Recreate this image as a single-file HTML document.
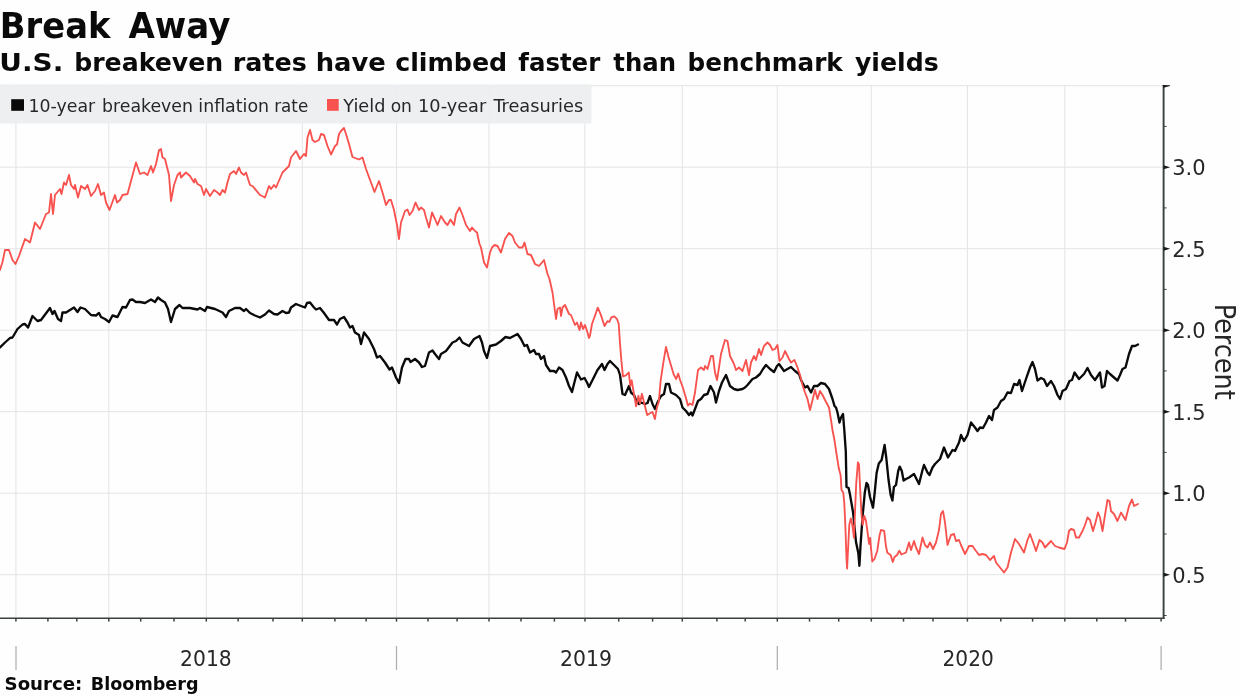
<!DOCTYPE html>
<html lang="en">
<head>
<meta charset="utf-8">
<title>Break Away</title>
<style>
html,body{margin:0;padding:0;background:#fefefe;}
body{width:1240px;height:696px;overflow:hidden;}
svg{display:block;will-change:transform;}
text{font-family:"DejaVu Sans Condensed","DejaVu Sans","Liberation Sans",sans-serif;fill:#272727;}
.b{font-family:"DejaVu Sans","Liberation Sans",sans-serif;font-weight:bold;fill:#0a0a0a;}
</style>
</head>
<body>
<svg width="1240" height="696" viewBox="0 0 1240 696">
<rect x="0" y="0" width="1240" height="696" fill="#fefefe"/>
<g stroke="#e4e4e7" stroke-width="1" fill="none">
<line x1="0" y1="85.7" x2="1163.6" y2="85.7"/>
<line x1="0" y1="167.2" x2="1163.6" y2="167.2"/>
<line x1="0" y1="248.7" x2="1163.6" y2="248.7"/>
<line x1="0" y1="330.2" x2="1163.6" y2="330.2"/>
<line x1="0" y1="411.7" x2="1163.6" y2="411.7"/>
<line x1="0" y1="493.2" x2="1163.6" y2="493.2"/>
<line x1="0" y1="574.7" x2="1163.6" y2="574.7"/>
<line x1="15.9" y1="85.7" x2="15.9" y2="618.3"/>
<line x1="108.8" y1="85.7" x2="108.8" y2="618.3"/>
<line x1="206.3" y1="85.7" x2="206.3" y2="618.3"/>
<line x1="302.3" y1="85.7" x2="302.3" y2="618.3"/>
<line x1="396.5" y1="85.7" x2="396.5" y2="618.3"/>
<line x1="489" y1="85.7" x2="489" y2="618.3"/>
<line x1="584.8" y1="85.7" x2="584.8" y2="618.3"/>
<line x1="682.3" y1="85.7" x2="682.3" y2="618.3"/>
<line x1="777.3" y1="85.7" x2="777.3" y2="618.3"/>
<line x1="871.3" y1="85.7" x2="871.3" y2="618.3"/>
<line x1="967.4" y1="85.7" x2="967.4" y2="618.3"/>
<line x1="1064.8" y1="85.7" x2="1064.8" y2="618.3"/>
</g>
<rect x="0" y="84.5" width="591.5" height="39" fill="#edeef0" fill-opacity="0.93"/>
<rect x="11.2" y="99.2" width="12.8" height="11.6" fill="#0a0a0a"/>
<rect x="327" y="99" width="11.7" height="11.8" fill="#f8524f"/>
<polyline fill="none" stroke="#0a0a0a" stroke-width="2.35" stroke-linejoin="round" stroke-linecap="round" points="0,347.5 5,342.5 10,338 12.5,337.5 17.5,329 22.5,324.5 25,324 28,327.5 32.5,316 37.5,321 41,320 44,316 50,308 52.5,314 54.5,311 58,319 61,321 62.5,312.5 66,312.5 74,307.5 77.5,312 80.5,307.5 85,309 91,315 96,315.5 99,313 101,317 105,319 109,322 112.5,315.5 117.5,317 122.5,307 126,307.5 130,300 132.5,299.5 136,302 140,302 145,303 151,299.5 155,302 158,297.5 161,300 165,302.5 168,309 171,322 175,309 179.5,305 182.5,308 190,308 197.5,309.5 200,308 205,311 207,307 215,309 222.5,312.5 226,317 229,311 235,308 240,308 244,311 246,309 250,313 255,315.5 260,317.5 265,314.5 269,310.5 274,314 277.5,314.5 282.5,311 286,313 289,312.5 291,307.5 296,304 301,306 305,307.5 307,303 310,302.5 314,307.5 316,309.5 320,308 324,313 329,320 334,320 337,324.5 340,319 344,317 347.5,322.5 350,327.5 352.5,326 355,332.5 359,335 361,344 364,332.5 369,339 374,349 377,357.5 380,356 385,362.5 389.5,369.5 392,367.5 396,377.5 399,383 402,367.5 405.5,359 409,359 410.5,362 415,359 419,362.5 422,367 425,366 429,352.5 432.5,350.5 435,354 439,359 441,354 446,351 452.5,342.5 456,341 459.5,337.5 462.5,342.5 469,346 474,339 479.5,336 482,342.5 484,351 487,358 490,346 496,344.5 501,341 505.5,337 510,338 517.5,334 521,339 524.5,346 527,345 530,352.5 534,350 536,354 539,354 541,359 544,356 546,365 550,371 554,371 556,372.5 559,367.5 562.5,370 566,377.5 569,386 572,392 574,384 577,372.5 581,379.5 584.5,378 587,382.5 589,387 592.5,380 597.5,370 602,364 604.5,370 607.5,364 610,361 615,366 618,369 620,375 622.5,394 625,395 629,386 631,392.5 634,395 636,400 639,404 641,402.5 645,404 647.5,403 650,396 652.5,404 655,409 657.5,402.5 661,396 664,394 666,384 669,384 671,392.5 674,394 676,395 680,399 682.5,407.5 686,411 689,415 691,412.5 692.5,415.5 695,409 698,401 701,399 704,395 707.5,394 710.5,386 714,392.5 716,402.5 719,391 722,382.5 726,375 730,386 734,389 737.5,390 742.5,389 745,387.5 747.5,385 752.5,379 756,377.5 760,374 763,369 766,365 770,369 774,372 777,366 779,364 784,371 787.5,369 791,367 795,371 799,374 801,380 805,387.5 807.5,386 811,392.5 814,386 817.5,386 821,383 825,384 829,389 832.5,399 834.5,406 836,407.5 837.5,412.5 839.5,422.5 841,417.5 843,414 844.3,430 845.8,451.5 846.5,487 848.6,488 850,494.6 853,512 856,542 858.3,553 859.4,565.8 860.5,546 862.6,516 864.8,492.5 866.5,483 868,485 870,497 873,507.6 874.5,494.6 876.6,473 878.8,463.4 881.6,460 884.6,445 886.3,458 888.5,479.5 890.6,494.6 892.4,500.5 893.9,487 896,485 898.2,471 899.7,466.6 901.8,471 903.6,480.6 906,479 909,477.5 914,474 919,484 922.5,470 924,465 927.5,472.5 929.5,475 932.5,467.5 935,464 940,459 944,447.5 948,457.5 952.5,450 955,451 959,442.5 961,435 964,441 967.5,435 971,422.5 975,427.5 977.5,431 980,427.5 983,428 986,422.5 989,416 992,420 994,410 997.5,407.5 1001,401 1004,399 1007.5,392.5 1011,393 1014,384 1017.5,385 1019.5,380 1022,391 1026,379 1030,367.5 1032.5,362 1035,369 1037.5,380.5 1041,378 1044,379.5 1047,386 1051,381 1054,386 1057.5,395 1060,399 1062.5,391 1066,389 1069.5,381 1072,380 1074.5,372.5 1079,379 1084,374 1087.5,368 1091,375 1095,380 1100,372.5 1102,387.5 1104.5,386 1107,371 1110,374 1114,377.5 1117.5,380.5 1120,375 1122.5,369 1125.5,367.5 1129,354 1132,346 1135,346 1138,344.5"/>
<polyline fill="none" stroke="#f8524f" stroke-width="1.85" stroke-linejoin="round" stroke-linecap="round" points="0,270 2.5,262 5,250 9,250 12.5,260 15.5,264 19,256 25,239 30,242.5 35,222.5 40,229 46,214 49,212.5 51,194 53,214 55,195 60,189 61.5,194 64,182.5 66,185 69,175 71,185 74,189 75,185 78,197.5 81,186 85,189 87.5,185 91,196 95,191 98,184 101,195 104,192.5 106,202.5 109.5,210 115,195 117,202.5 120,200 122.5,195 127.5,194 136,162.5 140,174 144,172.5 147.5,175 151,166 153,172.5 156,164 159,150 161,149 162.5,157.5 165,159 169,175 171,201 174,185 177.5,175 180,172.5 181,177.5 186,172.5 190,176 194,182.5 195,179 197.5,184 201,186 204,195 206,189 210,196 214,190 217.5,192.5 220,195 222.5,190 225,192.5 227.5,182.5 230,174 234,171 236,174 239,167.5 241,172.5 244,175 246,172.5 250,185 252.5,186 260,195 265,197.5 269,186 271,189 274,185 276,187.5 282.5,172.5 289,166 291,157.5 296,151 300,159 304,154 306,156 307.5,137.5 310,130 312.5,140 315,142 319,140 321,134 324,135 327.5,146 331,154.5 335,146 337,144.5 339,134 341,131 344,128 346,134 349,144 352.5,157 359,159.5 362.5,157.5 366,169 371,182.5 374.5,192 379,181 382.5,192.5 386,205 389,200 391,200 394,210 397,225 399,239 401,222.5 405,211 407.5,209.5 409.5,215 412.5,211 415.5,202.5 419,210 421,207.5 424,210 426,217.5 429,227.5 432,212.5 435,219 437.5,225 441,216 445,222.5 447.5,225 450.5,219.5 454,225 456,214 459.5,207.5 462.5,215 466,225 470,231 472,227.5 475,231 477,232.5 479.5,244 481,247.5 484,262.5 487,267.5 490,252.5 492,247.5 494.5,245 497.5,246 501,252.5 505,239 509,233 512.5,236 515,242.5 519,247.5 522.5,247.5 524.5,242.5 527.5,254 531,255 535,264 539,266 544,260 547.5,274 549.5,279 552.5,292.5 554.5,307.5 556,319 557.5,309 560,307.5 561,316 562.5,307.5 565,305 569,314 571,315 573,320 575,325 577,322.5 579.5,330 581,322.5 583,329 585,325 587.5,332.5 589,338 590,335.7 592,324 594.8,316.3 597.8,307.6 600.7,314.4 604.5,326 607.4,321.2 609.4,322 611.3,317.3 614.2,316.3 617.1,319.2 618.7,324 620,343.4 621.4,360.9 623,376.4 625.9,375.4 628.8,372.5 630.3,386 631.7,380.3 633.6,392 636.1,406.4 638.4,395.8 640,403.5 641.9,393.8 644.3,403.5 647.2,415 650,413.2 652.5,412 654.9,419 656.9,407.4 658.8,401.6 660.7,380.3 663.3,362.8 666,346.9 668.5,357 671.4,366.7 673.7,374.5 676.2,379 678.2,373.5 680.1,380 683,388 685.9,397.7 687.9,405.5 690,403.5 692.5,405 695,392.5 698,370 701,367.5 704,370 705,366 707.5,369 711,356 713,356 715,372.5 717,380 719,367.5 721,354 725,340 727.5,341 730,356 734,364 736,370 739,367.5 742.5,371 746,360 749,375 751,362.5 754,356 756,360 759,349 761,355 764,346 767.5,342.5 770,345 772.5,350 775,349 777.5,345 779.5,361 782.5,357.5 785,351 789,359 791,362.5 794.5,360 797.5,367.5 800,375 802.5,385 805,392.5 807.5,399 810,410 812.5,400 815,390 817.5,399 820,391 822.5,395 825,400 829,407.5 831,420 832.5,430 834.6,440.8 836.8,455.9 838.9,468.8 840.6,475 841.5,490 843.2,492.5 844.3,503 845.4,527 846.5,559 847.1,568.5 848,550.7 849.3,524.8 850.8,518.4 852.3,524.8 854,537.8 855,512 856.2,483.9 857.9,462.3 859,464.5 860,486 861.6,516 862.6,524.8 864.4,516 865.9,520.5 867.4,531 869.1,544 870.2,537.8 870.8,546 872.3,561.5 874.5,559 877.3,550.7 879.5,535.6 881,530 884.2,530.9 885.9,546 887.4,552.8 890.6,555 892.8,562 894.5,557 897.1,555 899.3,550.7 901.4,554.5 906,552.5 909,542.5 911,550 914,541 916,547.5 919,554 922.5,537.5 925,545 927.5,547.5 930,542.5 933,549 936,542.5 939,530 941,514 943,511 945,522.5 947.5,545 951,535 954,534 956,541 959,540 961,545 965,554 969,546 972.5,546 976,551 979,555 982.5,554 986,555 990,560 994,556 996,562.5 1000,567.5 1004,572.5 1007.5,567.5 1011,552.5 1015,539 1019,544 1024,552.5 1027.5,540 1030,534 1034,545 1036,551 1039.5,540 1042.5,542.5 1045,547.5 1051,541 1055,546 1059,547.5 1064.5,549 1067,542.5 1069,531 1071,529 1074,530 1076,537.5 1079,537.5 1082.5,531 1085,525 1087.5,517.5 1090,520 1093,531 1095.5,522.5 1098,512.5 1100,517.5 1102.5,531 1105,515 1107.5,500 1109.5,501 1111,511 1114,514 1117.5,521 1121,512.5 1124,517.5 1125.5,520 1129,506 1132,499.5 1134,506 1138,504"/>
<g stroke="#3a3f3f" fill="none">
<line x1="0" y1="618.3" x2="1164.6" y2="618.3" stroke-width="1.4"/>
<line x1="1163.6" y1="84.9" x2="1163.6" y2="619" stroke-width="1.9"/>
<line x1="15.9" y1="618.3" x2="15.9" y2="621.6" stroke-width="1.5"/>
<line x1="47.9" y1="618.3" x2="47.9" y2="621.6" stroke-width="1.5"/>
<line x1="76.8" y1="618.3" x2="76.8" y2="621.6" stroke-width="1.5"/>
<line x1="108.8" y1="618.3" x2="108.8" y2="621.6" stroke-width="1.5"/>
<line x1="140.7" y1="618.3" x2="140.7" y2="621.6" stroke-width="1.5"/>
<line x1="174" y1="618.3" x2="174" y2="621.6" stroke-width="1.5"/>
<line x1="206.3" y1="618.3" x2="206.3" y2="621.6" stroke-width="1.5"/>
<line x1="238.1" y1="618.3" x2="238.1" y2="621.6" stroke-width="1.5"/>
<line x1="273" y1="618.3" x2="273" y2="621.6" stroke-width="1.5"/>
<line x1="302.3" y1="618.3" x2="302.3" y2="621.6" stroke-width="1.5"/>
<line x1="334.9" y1="618.3" x2="334.9" y2="621.6" stroke-width="1.5"/>
<line x1="366.1" y1="618.3" x2="366.1" y2="621.6" stroke-width="1.5"/>
<line x1="396.5" y1="618.3" x2="396.5" y2="621.6" stroke-width="1.5"/>
<line x1="428" y1="618.3" x2="428" y2="621.6" stroke-width="1.5"/>
<line x1="457.1" y1="618.3" x2="457.1" y2="621.6" stroke-width="1.5"/>
<line x1="489" y1="618.3" x2="489" y2="621.6" stroke-width="1.5"/>
<line x1="521" y1="618.3" x2="521" y2="621.6" stroke-width="1.5"/>
<line x1="554.4" y1="618.3" x2="554.4" y2="621.6" stroke-width="1.5"/>
<line x1="585" y1="618.3" x2="585" y2="621.6" stroke-width="1.5"/>
<line x1="618.7" y1="618.3" x2="618.7" y2="621.6" stroke-width="1.5"/>
<line x1="652.6" y1="618.3" x2="652.6" y2="621.6" stroke-width="1.5"/>
<line x1="682.3" y1="618.3" x2="682.3" y2="621.6" stroke-width="1.5"/>
<line x1="716.9" y1="618.3" x2="716.9" y2="621.6" stroke-width="1.5"/>
<line x1="745.2" y1="618.3" x2="745.2" y2="621.6" stroke-width="1.5"/>
<line x1="777.3" y1="618.3" x2="777.3" y2="621.6" stroke-width="1.5"/>
<line x1="809.5" y1="618.3" x2="809.5" y2="621.6" stroke-width="1.5"/>
<line x1="838.7" y1="618.3" x2="838.7" y2="621.6" stroke-width="1.5"/>
<line x1="871.3" y1="618.3" x2="871.3" y2="621.6" stroke-width="1.5"/>
<line x1="903.5" y1="618.3" x2="903.5" y2="621.6" stroke-width="1.5"/>
<line x1="933" y1="618.3" x2="933" y2="621.6" stroke-width="1.5"/>
<line x1="967.4" y1="618.3" x2="967.4" y2="621.6" stroke-width="1.5"/>
<line x1="1000.8" y1="618.3" x2="1000.8" y2="621.6" stroke-width="1.5"/>
<line x1="1032.6" y1="618.3" x2="1032.6" y2="621.6" stroke-width="1.5"/>
<line x1="1064.8" y1="618.3" x2="1064.8" y2="621.6" stroke-width="1.5"/>
<line x1="1096.8" y1="618.3" x2="1096.8" y2="621.6" stroke-width="1.5"/>
<line x1="1125.5" y1="618.3" x2="1125.5" y2="621.6" stroke-width="1.5"/>
<line x1="1161.1" y1="618.3" x2="1161.1" y2="621.6" stroke-width="1.5"/>
<line x1="1163.6" y1="126.4" x2="1166.6" y2="126.4" stroke-width="1"/>
<line x1="1163.6" y1="207.9" x2="1166.6" y2="207.9" stroke-width="1"/>
<line x1="1163.6" y1="289.4" x2="1166.6" y2="289.4" stroke-width="1"/>
<line x1="1163.6" y1="370.9" x2="1166.6" y2="370.9" stroke-width="1"/>
<line x1="1163.6" y1="452.4" x2="1166.6" y2="452.4" stroke-width="1"/>
<line x1="1163.6" y1="534" x2="1166.6" y2="534" stroke-width="1"/>
<line x1="1163.6" y1="615.5" x2="1166.6" y2="615.5" stroke-width="1"/>
</g>
<g fill="#1a1a1a">
<path d="M1162.6 84.9 L1170 85.2 L1170 86 L1163.6 87.8 Z"/>
<path d="M1163.6 165.2 L1170.2 167.2 L1163.6 169.2 Z"/>
<path d="M1163.6 246.7 L1170.2 248.7 L1163.6 250.7 Z"/>
<path d="M1163.6 328.2 L1170.2 330.2 L1163.6 332.2 Z"/>
<path d="M1163.6 409.7 L1170.2 411.7 L1163.6 413.7 Z"/>
<path d="M1163.6 491.2 L1170.2 493.2 L1163.6 495.2 Z"/>
<path d="M1163.6 572.7 L1170.2 574.7 L1163.6 576.7 Z"/>
</g>
<text x="1172.2" y="175.2" font-size="22" textLength="33.4" lengthAdjust="spacingAndGlyphs">3.0</text>
<text x="1172.2" y="256.7" font-size="22" textLength="33.4" lengthAdjust="spacingAndGlyphs">2.5</text>
<text x="1172.2" y="338.2" font-size="22" textLength="33.4" lengthAdjust="spacingAndGlyphs">2.0</text>
<text x="1172.2" y="419.7" font-size="22" textLength="33.4" lengthAdjust="spacingAndGlyphs">1.5</text>
<text x="1172.2" y="501.2" font-size="22" textLength="33.4" lengthAdjust="spacingAndGlyphs">1.0</text>
<text x="1172.2" y="582.7" font-size="22" textLength="33.4" lengthAdjust="spacingAndGlyphs">0.5</text>
<text transform="translate(1214.5 303.7) rotate(90)" font-size="28" textLength="96" lengthAdjust="spacingAndGlyphs">Percent</text>
<g stroke="#a9adad" stroke-width="1.2">
<line x1="16" y1="646" x2="16" y2="670"/>
<line x1="396.5" y1="646" x2="396.5" y2="670"/>
<line x1="777.3" y1="646" x2="777.3" y2="670"/>
<line x1="1161.1" y1="646" x2="1161.1" y2="670"/>
</g>
<g id="words" opacity="0.999">
<text id="t1" class="b" x="-0.15" y="38" font-size="35" textLength="110.50" lengthAdjust="spacingAndGlyphs">Break</text>
<text id="t2" class="b" x="128.45" y="38" font-size="35" textLength="101.91" lengthAdjust="spacingAndGlyphs">Away</text>
<text id="s1" class="b" x="-0.75" y="71" font-size="25" textLength="64.03" lengthAdjust="spacingAndGlyphs">U.S.</text>
<text id="s2" class="b" x="74.21" y="71" font-size="25" textLength="148.98" lengthAdjust="spacingAndGlyphs">breakeven</text>
<text id="s3" class="b" x="232.73" y="71" font-size="25" textLength="74.04" lengthAdjust="spacingAndGlyphs">rates</text>
<text id="s4" class="b" x="315.69" y="71" font-size="25" textLength="70.02" lengthAdjust="spacingAndGlyphs">have</text>
<text id="s5" class="b" x="395.15" y="71" font-size="25" textLength="112.02" lengthAdjust="spacingAndGlyphs">climbed</text>
<text id="s6" class="b" x="518.31" y="71" font-size="25" textLength="81.89" lengthAdjust="spacingAndGlyphs">faster</text>
<text id="s7" class="b" x="613.28" y="71" font-size="25" textLength="62.73" lengthAdjust="spacingAndGlyphs">than</text>
<text id="s8" class="b" x="687.57" y="71" font-size="25" textLength="155.18" lengthAdjust="spacingAndGlyphs">benchmark</text>
<text id="s9" class="b" x="854.93" y="71" font-size="25" textLength="83.70" lengthAdjust="spacingAndGlyphs">yields</text>
<text id="l1" class="r" x="28.56" y="112" font-size="18" textLength="66.69" lengthAdjust="spacingAndGlyphs">10-year</text>
<text id="l2" class="r" x="102.04" y="112" font-size="18" textLength="90.96" lengthAdjust="spacingAndGlyphs">breakeven</text>
<text id="l3" class="r" x="198.37" y="112" font-size="18" textLength="70.66" lengthAdjust="spacingAndGlyphs">inflation</text>
<text id="l4" class="r" x="274.26" y="112" font-size="18" textLength="33.91" lengthAdjust="spacingAndGlyphs">rate</text>
<text id="m1" class="r" x="343.34" y="112" font-size="18" textLength="42.04" lengthAdjust="spacingAndGlyphs">Yield</text>
<text id="m2" class="r" x="390.69" y="112" font-size="18" textLength="21.25" lengthAdjust="spacingAndGlyphs">on</text>
<text id="m3" class="r" x="418.08" y="112" font-size="18" textLength="68.19" lengthAdjust="spacingAndGlyphs">10-year</text>
<text id="m4" class="r" x="493.61" y="112" font-size="18" textLength="89.65" lengthAdjust="spacingAndGlyphs">Treasuries</text>
<text id="y1" class="r" x="180.09" y="666.3" font-size="22" textLength="51.60" lengthAdjust="spacingAndGlyphs">2018</text>
<text id="y2" class="r" x="560.05" y="666.3" font-size="22" textLength="51.89" lengthAdjust="spacingAndGlyphs">2019</text>
<text id="y3" class="r" x="942.56" y="666.3" font-size="22" textLength="51.22" lengthAdjust="spacingAndGlyphs">2020</text>
<text id="c1" class="b" x="4.56" y="689.7" font-size="17.3" textLength="77.81" lengthAdjust="spacingAndGlyphs">Source:</text>
<text id="c2" class="b" x="90.79" y="689.7" font-size="17.3" textLength="107.74" lengthAdjust="spacingAndGlyphs">Bloomberg</text>
</g>
</svg>
</body>
</html>
